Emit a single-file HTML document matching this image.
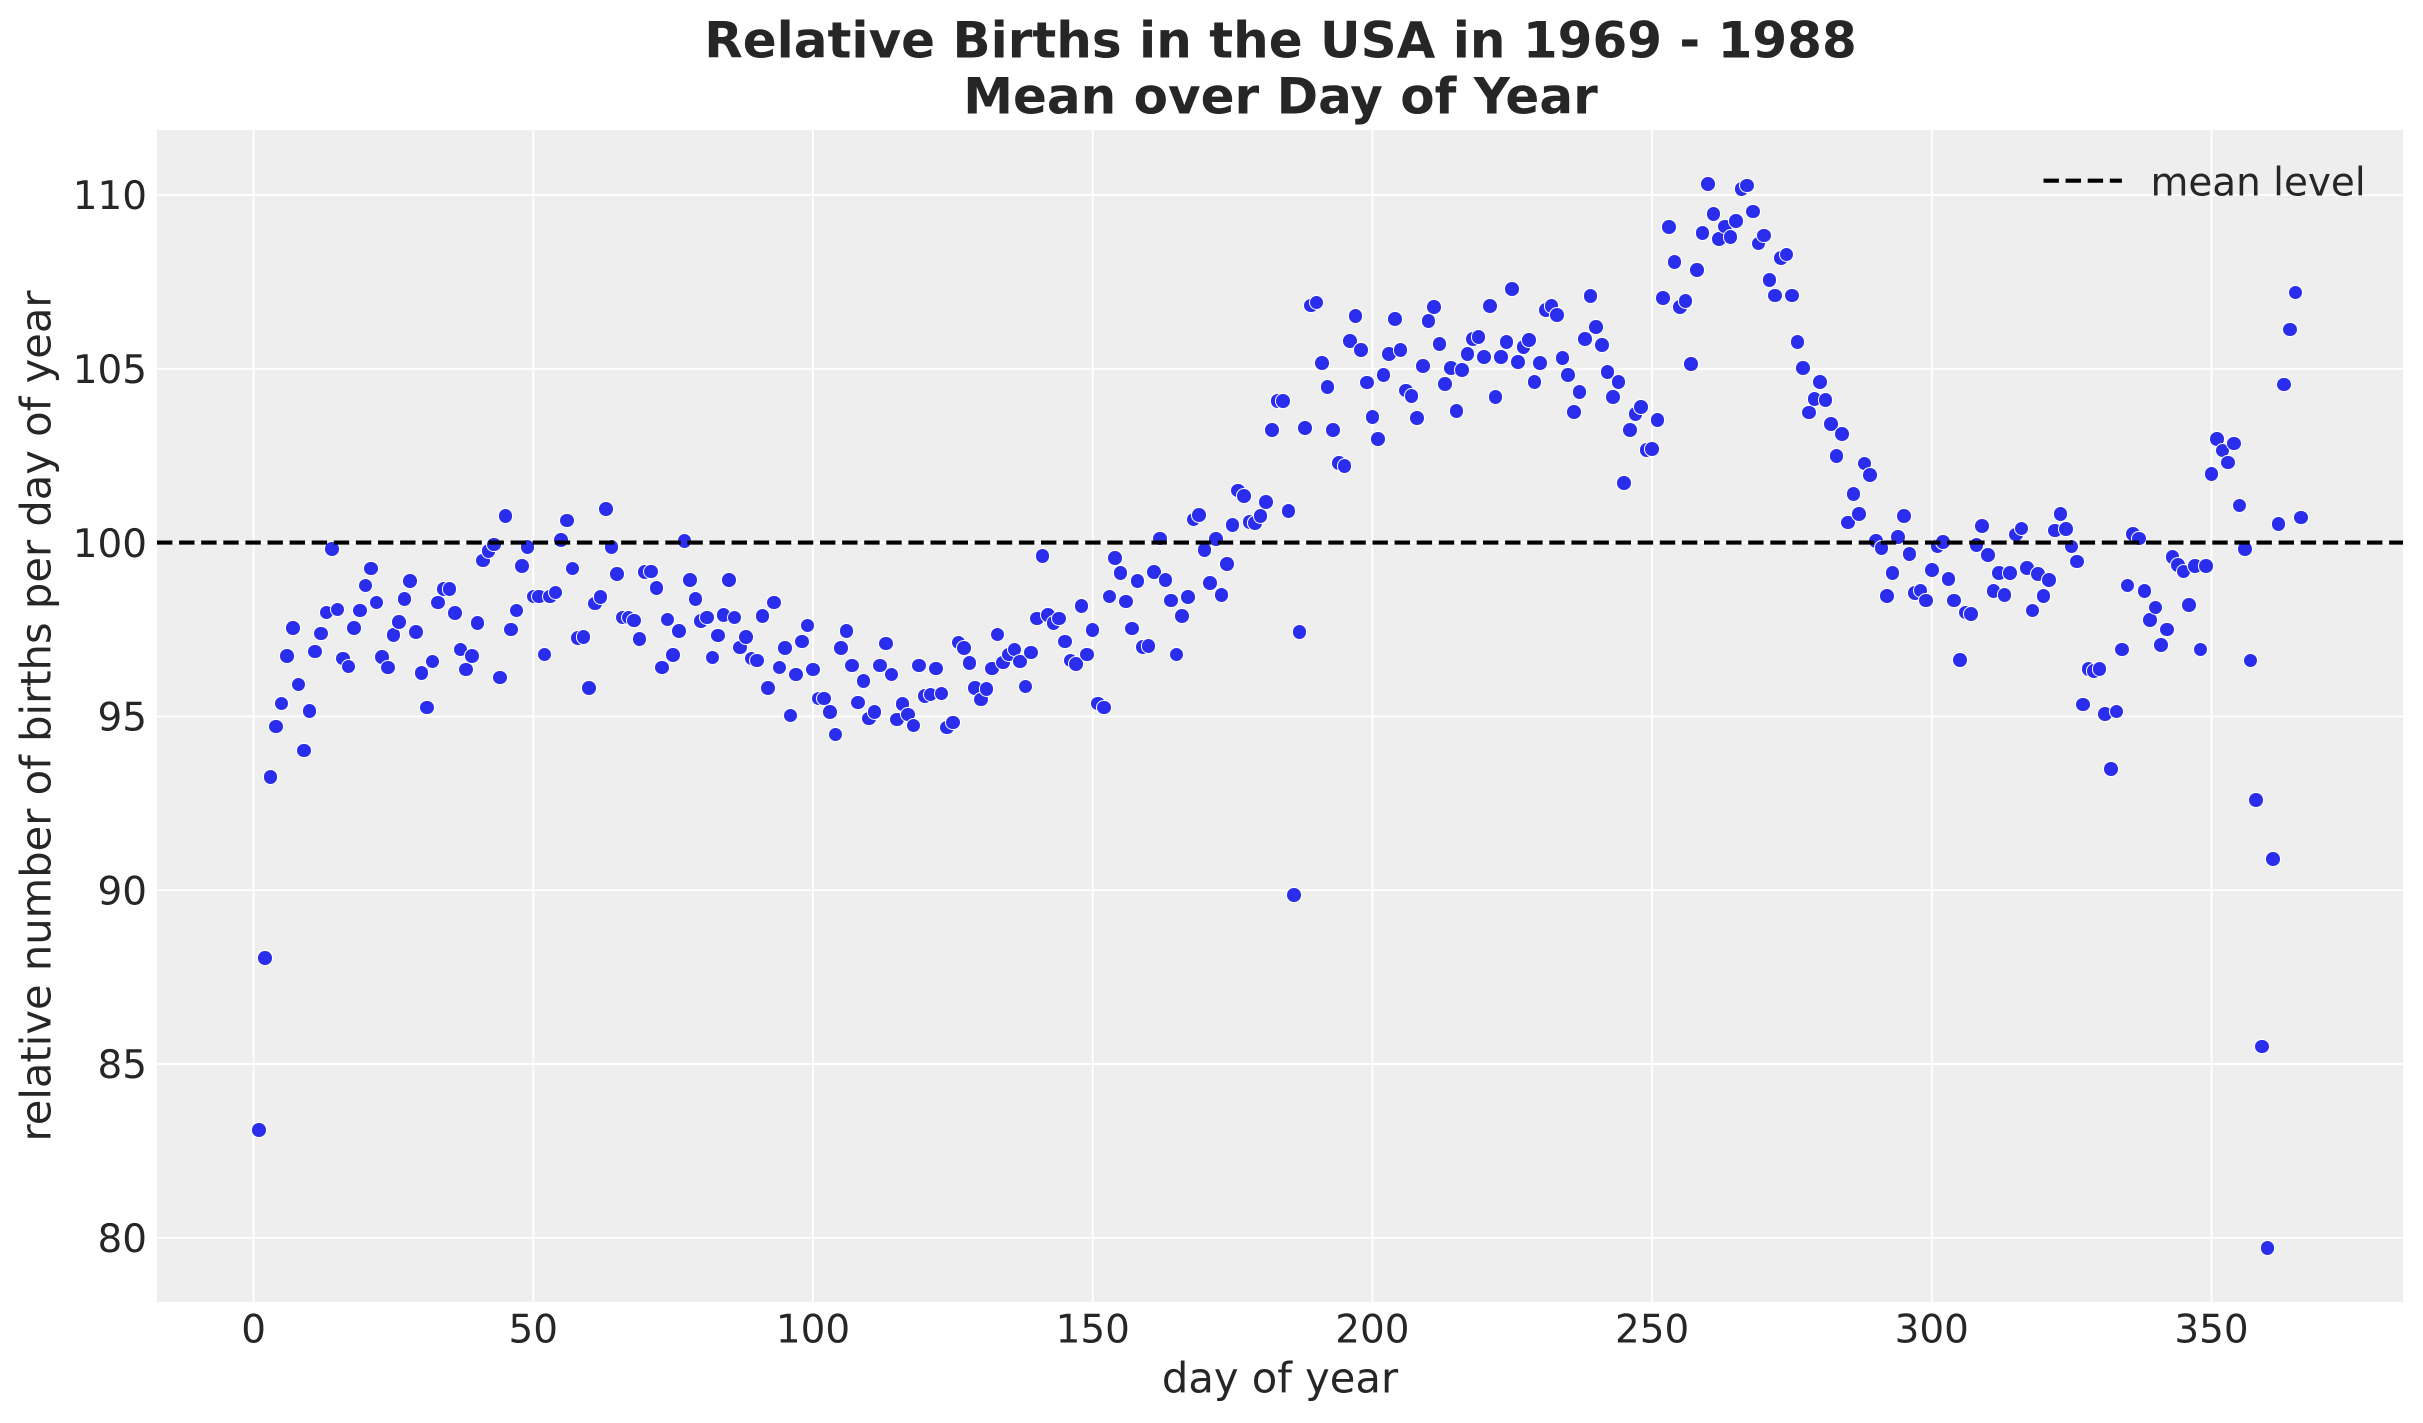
<!DOCTYPE html>
<html>
<head>
<meta charset="utf-8">
<style>
html,body{margin:0;padding:0;background:#fff}
#c{position:relative;width:2423px;height:1423px;overflow:hidden;background:#fff;font-family:"DejaVu Sans","Liberation Sans",sans-serif}
svg{position:absolute;left:0;top:0}
#pts{position:absolute;left:0;top:0;width:2423px;height:1423px}
#pts i{position:absolute;display:block;width:15.6px;height:15.6px;box-sizing:border-box;border:1.3px solid #fff;border-radius:50%;background:#2a2eec;left:calc(245.8px + var(--d) * 5.594px);top:calc(4010.8px - var(--v) * 34.76px)}
</style>
</head>
<body>
<div id="c">
<svg width="2423" height="1423" viewBox="0 0 2423 1423">
  <rect x="157" y="130" width="2246" height="1172" fill="#eeeeee"/>
  <g stroke="#ffffff" stroke-width="1.9">
    <line x1="253.6" y1="130" x2="253.6" y2="1302"/>
    <line x1="533.3" y1="130" x2="533.3" y2="1302"/>
    <line x1="813.0" y1="130" x2="813.0" y2="1302"/>
    <line x1="1092.7" y1="130" x2="1092.7" y2="1302"/>
    <line x1="1372.4" y1="130" x2="1372.4" y2="1302"/>
    <line x1="1652.1" y1="130" x2="1652.1" y2="1302"/>
    <line x1="1931.8" y1="130" x2="1931.8" y2="1302"/>
    <line x1="2211.5" y1="130" x2="2211.5" y2="1302"/>
    <line x1="157" y1="195" x2="2403" y2="195"/>
    <line x1="157" y1="368.8" x2="2403" y2="368.8"/>
    <line x1="157" y1="542.6" x2="2403" y2="542.6"/>
    <line x1="157" y1="716.4" x2="2403" y2="716.4"/>
    <line x1="157" y1="890.2" x2="2403" y2="890.2"/>
    <line x1="157" y1="1064" x2="2403" y2="1064"/>
    <line x1="157" y1="1237.8" x2="2403" y2="1237.8"/>
  </g>
  <g font-size="38.9" fill="#262626" text-anchor="end">
    <text x="147" y="209.2">110</text>
    <text x="147" y="383">105</text>
    <text x="147" y="556.8">100</text>
    <text x="147" y="730.6">95</text>
    <text x="147" y="904.4">90</text>
    <text x="147" y="1078.2">85</text>
    <text x="147" y="1252">80</text>
  </g>
  <g font-size="38.9" fill="#262626" text-anchor="middle">
    <text x="253.6" y="1342.3">0</text>
    <text x="533.3" y="1342.3">50</text>
    <text x="813.0" y="1342.3">100</text>
    <text x="1092.7" y="1342.3">150</text>
    <text x="1372.4" y="1342.3">200</text>
    <text x="1652.1" y="1342.3">250</text>
    <text x="1931.8" y="1342.3">300</text>
    <text x="2211.5" y="1342.3">350</text>
  </g>
  <text x="1280" y="1392.3" font-size="41.67" fill="#262626" text-anchor="middle">day of year</text>
  <text transform="translate(50.5,716) rotate(-90)" font-size="41.67" fill="#262626" text-anchor="middle">relative number of births per day of year</text>
  <g font-size="50" font-weight="bold" fill="#262626" text-anchor="middle">
    <text x="1280.5" y="57.3">Relative Births in the USA in 1969 - 1988</text>
    <text x="1280.5" y="113.3">Mean over Day of Year</text>
  </g>
</svg>
<div id="pts">
<i style="--d:1;--v:83.1"></i><i style="--d:2;--v:88.05"></i><i style="--d:3;--v:93.25"></i><i style="--d:4;--v:94.71"></i><i style="--d:5;--v:95.37"></i><i style="--d:6;--v:96.73"></i><i style="--d:7;--v:97.54"></i><i style="--d:8;--v:95.92"></i><i style="--d:9;--v:94.02"></i><i style="--d:10;--v:95.15"></i>
<i style="--d:11;--v:96.87"></i><i style="--d:12;--v:97.39"></i><i style="--d:13;--v:97.99"></i><i style="--d:14;--v:99.81"></i><i style="--d:15;--v:98.08"></i><i style="--d:16;--v:96.67"></i><i style="--d:17;--v:96.44"></i><i style="--d:18;--v:97.54"></i><i style="--d:19;--v:98.05"></i><i style="--d:20;--v:98.77"></i>
<i style="--d:21;--v:99.26"></i><i style="--d:22;--v:98.28"></i><i style="--d:23;--v:96.71"></i><i style="--d:24;--v:96.41"></i><i style="--d:25;--v:97.34"></i><i style="--d:26;--v:97.71"></i><i style="--d:27;--v:98.37"></i><i style="--d:28;--v:98.89"></i><i style="--d:29;--v:97.42"></i><i style="--d:30;--v:96.24"></i>
<i style="--d:31;--v:95.26"></i><i style="--d:32;--v:96.58"></i><i style="--d:33;--v:98.28"></i><i style="--d:34;--v:98.66"></i><i style="--d:35;--v:98.66"></i><i style="--d:36;--v:97.97"></i><i style="--d:37;--v:96.93"></i><i style="--d:38;--v:96.35"></i><i style="--d:39;--v:96.73"></i><i style="--d:40;--v:97.68"></i>
<i style="--d:41;--v:99.49"></i><i style="--d:42;--v:99.76"></i><i style="--d:43;--v:99.95"></i><i style="--d:44;--v:96.12"></i><i style="--d:45;--v:100.76"></i><i style="--d:46;--v:97.5"></i><i style="--d:47;--v:98.05"></i><i style="--d:48;--v:99.32"></i><i style="--d:49;--v:99.88"></i><i style="--d:50;--v:98.45"></i>
<i style="--d:51;--v:98.45"></i><i style="--d:52;--v:96.78"></i><i style="--d:53;--v:98.45"></i><i style="--d:54;--v:98.57"></i><i style="--d:55;--v:100.08"></i><i style="--d:56;--v:100.64"></i><i style="--d:57;--v:99.26"></i><i style="--d:58;--v:97.26"></i><i style="--d:59;--v:97.28"></i><i style="--d:60;--v:95.81"></i>
<i style="--d:61;--v:98.25"></i><i style="--d:62;--v:98.43"></i><i style="--d:63;--v:100.96"></i><i style="--d:64;--v:99.88"></i><i style="--d:65;--v:99.09"></i><i style="--d:66;--v:97.85"></i><i style="--d:67;--v:97.85"></i><i style="--d:68;--v:97.76"></i><i style="--d:69;--v:97.22"></i><i style="--d:70;--v:99.15"></i>
<i style="--d:71;--v:99.17"></i><i style="--d:72;--v:98.69"></i><i style="--d:73;--v:96.41"></i><i style="--d:74;--v:97.79"></i><i style="--d:75;--v:96.76"></i><i style="--d:76;--v:97.45"></i><i style="--d:77;--v:100.05"></i><i style="--d:78;--v:98.92"></i><i style="--d:79;--v:98.37"></i><i style="--d:80;--v:97.74"></i>
<i style="--d:81;--v:97.85"></i><i style="--d:82;--v:96.7"></i><i style="--d:83;--v:97.33"></i><i style="--d:84;--v:97.91"></i><i style="--d:85;--v:98.92"></i><i style="--d:86;--v:97.85"></i><i style="--d:87;--v:96.98"></i><i style="--d:88;--v:97.28"></i><i style="--d:89;--v:96.67"></i><i style="--d:90;--v:96.61"></i>
<i style="--d:91;--v:97.88"></i><i style="--d:92;--v:95.81"></i><i style="--d:93;--v:98.28"></i><i style="--d:94;--v:96.41"></i><i style="--d:95;--v:96.96"></i><i style="--d:96;--v:95.03"></i><i style="--d:97;--v:96.21"></i><i style="--d:98;--v:97.16"></i><i style="--d:99;--v:97.62"></i><i style="--d:100;--v:96.35"></i>
<i style="--d:101;--v:95.52"></i><i style="--d:102;--v:95.52"></i><i style="--d:103;--v:95.12"></i><i style="--d:104;--v:94.48"></i><i style="--d:105;--v:96.96"></i><i style="--d:106;--v:97.45"></i><i style="--d:107;--v:96.47"></i><i style="--d:108;--v:95.4"></i><i style="--d:109;--v:96.01"></i><i style="--d:110;--v:94.94"></i>
<i style="--d:111;--v:95.12"></i><i style="--d:112;--v:96.47"></i><i style="--d:113;--v:97.1"></i><i style="--d:114;--v:96.21"></i><i style="--d:115;--v:94.91"></i><i style="--d:116;--v:95.35"></i><i style="--d:117;--v:95.06"></i><i style="--d:118;--v:94.74"></i><i style="--d:119;--v:96.47"></i><i style="--d:120;--v:95.58"></i>
<i style="--d:121;--v:95.63"></i><i style="--d:122;--v:96.38"></i><i style="--d:123;--v:95.66"></i><i style="--d:124;--v:94.68"></i><i style="--d:125;--v:94.83"></i><i style="--d:126;--v:97.13"></i><i style="--d:127;--v:96.96"></i><i style="--d:128;--v:96.53"></i><i style="--d:129;--v:95.81"></i><i style="--d:130;--v:95.49"></i>
<i style="--d:131;--v:95.78"></i><i style="--d:132;--v:96.38"></i><i style="--d:133;--v:97.36"></i><i style="--d:134;--v:96.55"></i><i style="--d:135;--v:96.78"></i><i style="--d:136;--v:96.93"></i><i style="--d:137;--v:96.58"></i><i style="--d:138;--v:95.86"></i><i style="--d:139;--v:96.84"></i><i style="--d:140;--v:97.82"></i>
<i style="--d:141;--v:99.61"></i><i style="--d:142;--v:97.91"></i><i style="--d:143;--v:97.68"></i><i style="--d:144;--v:97.82"></i><i style="--d:145;--v:97.16"></i><i style="--d:146;--v:96.61"></i><i style="--d:147;--v:96.5"></i><i style="--d:148;--v:98.17"></i><i style="--d:149;--v:96.78"></i><i style="--d:150;--v:97.48"></i>
<i style="--d:151;--v:95.37"></i><i style="--d:152;--v:95.26"></i><i style="--d:153;--v:98.45"></i><i style="--d:154;--v:99.55"></i><i style="--d:155;--v:99.12"></i><i style="--d:156;--v:98.31"></i><i style="--d:157;--v:97.53"></i><i style="--d:158;--v:98.89"></i><i style="--d:159;--v:96.99"></i><i style="--d:160;--v:97.02"></i>
<i style="--d:161;--v:99.15"></i><i style="--d:162;--v:100.12"></i><i style="--d:163;--v:98.92"></i><i style="--d:164;--v:98.34"></i><i style="--d:165;--v:96.78"></i><i style="--d:166;--v:97.88"></i><i style="--d:167;--v:98.43"></i><i style="--d:168;--v:100.67"></i><i style="--d:169;--v:100.79"></i><i style="--d:170;--v:99.78"></i>
<i style="--d:171;--v:98.83"></i><i style="--d:172;--v:100.1"></i><i style="--d:173;--v:98.5"></i><i style="--d:174;--v:99.39"></i><i style="--d:175;--v:100.51"></i><i style="--d:176;--v:101.5"></i><i style="--d:177;--v:101.34"></i><i style="--d:178;--v:100.6"></i><i style="--d:179;--v:100.56"></i><i style="--d:180;--v:100.76"></i>
<i style="--d:181;--v:101.17"></i><i style="--d:182;--v:103.24"></i><i style="--d:183;--v:104.08"></i><i style="--d:184;--v:104.08"></i><i style="--d:185;--v:100.91"></i><i style="--d:186;--v:89.87"></i><i style="--d:187;--v:97.43"></i><i style="--d:188;--v:103.3"></i><i style="--d:189;--v:106.82"></i><i style="--d:190;--v:106.91"></i>
<i style="--d:191;--v:105.17"></i><i style="--d:192;--v:104.48"></i><i style="--d:193;--v:103.24"></i><i style="--d:194;--v:102.29"></i><i style="--d:195;--v:102.2"></i><i style="--d:196;--v:105.8"></i><i style="--d:197;--v:106.52"></i><i style="--d:198;--v:105.54"></i><i style="--d:199;--v:104.61"></i><i style="--d:200;--v:103.61"></i>
<i style="--d:201;--v:102.98"></i><i style="--d:202;--v:104.82"></i><i style="--d:203;--v:105.43"></i><i style="--d:204;--v:106.43"></i><i style="--d:205;--v:105.54"></i><i style="--d:206;--v:104.37"></i><i style="--d:207;--v:104.22"></i><i style="--d:208;--v:103.59"></i><i style="--d:209;--v:105.08"></i><i style="--d:210;--v:106.38"></i>
<i style="--d:211;--v:106.78"></i><i style="--d:212;--v:105.71"></i><i style="--d:213;--v:104.56"></i><i style="--d:214;--v:105.02"></i><i style="--d:215;--v:103.79"></i><i style="--d:216;--v:104.97"></i><i style="--d:217;--v:105.43"></i><i style="--d:218;--v:105.86"></i><i style="--d:219;--v:105.92"></i><i style="--d:220;--v:105.34"></i>
<i style="--d:221;--v:106.81"></i><i style="--d:222;--v:104.19"></i><i style="--d:223;--v:105.34"></i><i style="--d:224;--v:105.77"></i><i style="--d:225;--v:107.3"></i><i style="--d:226;--v:105.2"></i><i style="--d:227;--v:105.63"></i><i style="--d:228;--v:105.83"></i><i style="--d:229;--v:104.62"></i><i style="--d:230;--v:105.17"></i>
<i style="--d:231;--v:106.69"></i><i style="--d:232;--v:106.81"></i><i style="--d:233;--v:106.55"></i><i style="--d:234;--v:105.31"></i><i style="--d:235;--v:104.82"></i><i style="--d:236;--v:103.76"></i><i style="--d:237;--v:104.33"></i><i style="--d:238;--v:105.86"></i><i style="--d:239;--v:107.1"></i><i style="--d:240;--v:106.2"></i>
<i style="--d:241;--v:105.69"></i><i style="--d:242;--v:104.91"></i><i style="--d:243;--v:104.19"></i><i style="--d:244;--v:104.62"></i><i style="--d:245;--v:101.72"></i><i style="--d:246;--v:103.24"></i><i style="--d:247;--v:103.7"></i><i style="--d:248;--v:103.9"></i><i style="--d:249;--v:102.67"></i><i style="--d:250;--v:102.7"></i>
<i style="--d:251;--v:103.53"></i><i style="--d:252;--v:107.04"></i><i style="--d:253;--v:109.08"></i><i style="--d:254;--v:108.07"></i><i style="--d:255;--v:106.78"></i><i style="--d:256;--v:106.95"></i><i style="--d:257;--v:105.14"></i><i style="--d:258;--v:107.84"></i><i style="--d:259;--v:108.91"></i><i style="--d:260;--v:110.32"></i>
<i style="--d:261;--v:109.45"></i><i style="--d:262;--v:108.74"></i><i style="--d:263;--v:109.09"></i><i style="--d:264;--v:108.79"></i><i style="--d:265;--v:109.26"></i><i style="--d:266;--v:110.18"></i><i style="--d:267;--v:110.27"></i><i style="--d:268;--v:109.52"></i><i style="--d:269;--v:108.6"></i><i style="--d:270;--v:108.84"></i>
<i style="--d:271;--v:107.56"></i><i style="--d:272;--v:107.11"></i><i style="--d:273;--v:108.18"></i><i style="--d:274;--v:108.29"></i><i style="--d:275;--v:107.11"></i><i style="--d:276;--v:105.77"></i><i style="--d:277;--v:105.02"></i><i style="--d:278;--v:103.74"></i><i style="--d:279;--v:104.13"></i><i style="--d:280;--v:104.62"></i>
<i style="--d:281;--v:104.11"></i><i style="--d:282;--v:103.42"></i><i style="--d:283;--v:102.49"></i><i style="--d:284;--v:103.13"></i><i style="--d:285;--v:100.58"></i><i style="--d:286;--v:101.4"></i><i style="--d:287;--v:100.83"></i><i style="--d:288;--v:102.27"></i><i style="--d:289;--v:101.95"></i><i style="--d:290;--v:100.05"></i>
<i style="--d:291;--v:99.85"></i><i style="--d:292;--v:98.46"></i><i style="--d:293;--v:99.13"></i><i style="--d:294;--v:100.16"></i><i style="--d:295;--v:100.77"></i><i style="--d:296;--v:99.67"></i><i style="--d:297;--v:98.55"></i><i style="--d:298;--v:98.62"></i><i style="--d:299;--v:98.34"></i><i style="--d:300;--v:99.21"></i>
<i style="--d:301;--v:99.91"></i><i style="--d:302;--v:100.02"></i><i style="--d:303;--v:98.95"></i><i style="--d:304;--v:98.33"></i><i style="--d:305;--v:96.62"></i><i style="--d:306;--v:97.99"></i><i style="--d:307;--v:97.95"></i><i style="--d:308;--v:99.93"></i><i style="--d:309;--v:100.48"></i><i style="--d:310;--v:99.65"></i>
<i style="--d:311;--v:98.61"></i><i style="--d:312;--v:99.13"></i><i style="--d:313;--v:98.49"></i><i style="--d:314;--v:99.13"></i><i style="--d:315;--v:100.23"></i><i style="--d:316;--v:100.41"></i><i style="--d:317;--v:99.27"></i><i style="--d:318;--v:98.05"></i><i style="--d:319;--v:99.1"></i><i style="--d:320;--v:98.46"></i>
<i style="--d:321;--v:98.92"></i><i style="--d:322;--v:100.35"></i><i style="--d:323;--v:100.83"></i><i style="--d:324;--v:100.39"></i><i style="--d:325;--v:99.89"></i><i style="--d:326;--v:99.46"></i><i style="--d:327;--v:95.34"></i><i style="--d:328;--v:96.37"></i><i style="--d:329;--v:96.31"></i><i style="--d:330;--v:96.36"></i>
<i style="--d:331;--v:95.07"></i><i style="--d:332;--v:93.49"></i><i style="--d:333;--v:95.14"></i><i style="--d:334;--v:96.92"></i><i style="--d:335;--v:98.76"></i><i style="--d:336;--v:100.24"></i><i style="--d:337;--v:100.12"></i><i style="--d:338;--v:98.61"></i><i style="--d:339;--v:97.78"></i><i style="--d:340;--v:98.13"></i>
<i style="--d:341;--v:97.06"></i><i style="--d:342;--v:97.5"></i><i style="--d:343;--v:99.59"></i><i style="--d:344;--v:99.35"></i><i style="--d:345;--v:99.17"></i><i style="--d:346;--v:98.21"></i><i style="--d:347;--v:99.32"></i><i style="--d:348;--v:96.92"></i><i style="--d:349;--v:99.32"></i><i style="--d:350;--v:101.98"></i>
<i style="--d:351;--v:102.98"></i><i style="--d:352;--v:102.65"></i><i style="--d:353;--v:102.31"></i><i style="--d:354;--v:102.85"></i><i style="--d:355;--v:101.07"></i><i style="--d:356;--v:99.81"></i><i style="--d:357;--v:96.61"></i><i style="--d:358;--v:92.6"></i><i style="--d:359;--v:85.5"></i><i style="--d:360;--v:79.7"></i>
<i style="--d:361;--v:90.9"></i><i style="--d:362;--v:100.53"></i><i style="--d:363;--v:104.55"></i><i style="--d:364;--v:106.13"></i><i style="--d:365;--v:107.2"></i><i style="--d:366;--v:100.72"></i>
</div>
<svg width="2423" height="1423" viewBox="0 0 2423 1423">
  <line x1="157" y1="542.6" x2="2403" y2="542.6" stroke="#000" stroke-width="4.17" stroke-dasharray="15.4 6.7"/>
  <line x1="2043.5" y1="180.7" x2="2121.9" y2="180.7" stroke="#000" stroke-width="4.17" stroke-dasharray="15.4 6.7"/>
  <text x="2150.5" y="195.7" font-size="38.9" fill="#262626">mean level</text>
</svg>
</div>
</body>
</html>
